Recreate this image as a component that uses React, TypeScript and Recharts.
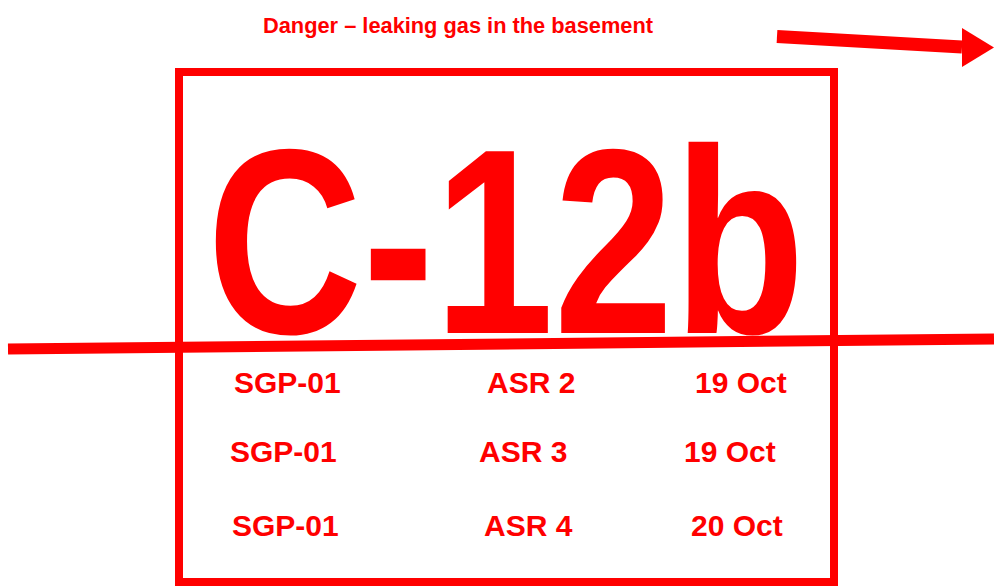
import React from "react";
import {
  ScatterChart,
  Scatter,
  XAxis,
  YAxis,
  ReferenceArea,
  ReferenceLine,
} from "recharts";

// sign laid out on a 994 x 587 grid (y counted from the top)
const noteText = ["Danger – leaking gas in the basement"];
const noteAt = [{ x: 263, y: 33 }];

const codeText = ["C-12b"];
const codeAt = [{ x: 207, y: 333 }];

const siteIds = ["SGP-01", "SGP-01", "SGP-01"];
const asrNames = ["ASR 2", "ASR 3", "ASR 4"];
const sampleDates = ["19 Oct", "19 Oct", "20 Oct"];
const rowBaselines = [393, 462, 536];
const siteX = [234, 230, 232];
const asrX = [487, 479, 484];
const dateX = [695, 684, 691];

const frame = { x1: 179, x2: 834, y1: 72, y2: 582 };
const crossLine = [
  { x: 8, y: 349 },
  { x: 994, y: 339 },
];
const arrowShaft = [
  { x: 777, y: 36.5 },
  { x: 962, y: 47 },
];
const arrowHead = [{ x: 962, y: 47.5 }];

const RED = "#ff0000";
const FONT = "'Liberation Sans', Arial, Helvetica, sans-serif";

const notePoints = noteText.map((label, i) => ({ ...noteAt[i], label }));
const codePoints = codeText.map((label, i) => ({ ...codeAt[i], label }));
const rowPoints = rowBaselines.flatMap((y, i) => [
  { x: siteX[i], y, label: siteIds[i] },
  { x: asrX[i], y, label: asrNames[i] },
  { x: dateX[i], y, label: sampleDates[i] },
]);

function makeText(fontSize: number, textLength?: number) {
  return (props: any) => {
    const { cx, cy, payload } = props;
    return (
      <text
        x={cx}
        y={cy}
        fill={RED}
        fontFamily={FONT}
        fontWeight="bold"
        fontSize={fontSize}
        textAnchor="start"
        {...(textLength
          ? { textLength, lengthAdjust: "spacingAndGlyphs" }
          : {})}
      >
        {payload.label}
      </text>
    );
  };
}

function ArrowTip(props: any) {
  const { cx, cy } = props;
  return (
    <polygon
      points={`${cx},${cy - 19.5} ${cx + 32},${cy} ${cx},${cy + 19.5}`}
      fill={RED}
    />
  );
}

export default function App() {
  return (
    <div
      style={{
        position: "absolute",
        left: 0,
        top: 0,
        width: 994,
        height: 587,
        background: "#fff",
        overflow: "hidden",
      }}
    >
      <ScatterChart
        width={994}
        height={587}
        margin={{ top: 0, right: 0, bottom: 0, left: 0 }}
      >
        <XAxis type="number" dataKey="x" domain={[0, 994]} hide />
        <YAxis type="number" dataKey="y" domain={[0, 587]} reversed hide />

        {/* box round the code */}
        <ReferenceArea
          x1={frame.x1}
          x2={frame.x2}
          y1={frame.y1}
          y2={frame.y2}
          fill="none"
          fillOpacity={0}
          stroke={RED}
          strokeWidth={8}
          ifOverflow="visible"
        />

        {/* crossing line and arrow */}
        <ReferenceLine
          segment={crossLine}
          stroke={RED}
          strokeWidth={11}
          ifOverflow="visible"
        />
        <ReferenceLine
          segment={arrowShaft}
          stroke={RED}
          strokeWidth={13}
          ifOverflow="visible"
        />
        <Scatter
          data={arrowHead}
          shape={ArrowTip}
          isAnimationActive={false}
        />

        <Scatter
          data={notePoints}
          shape={makeText(21.8)}
          isAnimationActive={false}
        />
        <Scatter
          data={codePoints}
          shape={makeText(264, 598)}
          isAnimationActive={false}
        />
        <Scatter
          data={rowPoints}
          shape={makeText(30)}
          isAnimationActive={false}
        />
      </ScatterChart>
    </div>
  );
}
